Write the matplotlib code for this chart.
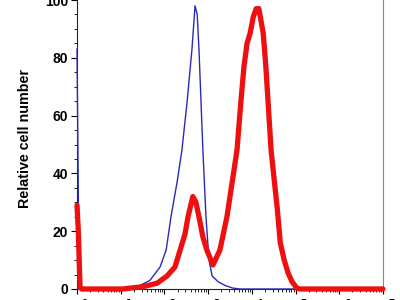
import numpy as np
import matplotlib
matplotlib.use("Agg")
import matplotlib.pyplot as plt
from matplotlib.ticker import LogLocator, MultipleLocator, FixedLocator, NullFormatter

# log10 of fluorescence intensity and relative cell number
blue_log = [0.00, 0.05, 1.14, 1.37, 1.67, 1.90, 2.04, 2.15, 2.29, 2.40, 2.52, 2.63,
            2.70, 2.75, 2.79, 2.88, 2.95, 3.02, 3.09, 3.23, 3.39, 3.57, 3.73, 7.00]
blue_val = [83, 0, 0, 0.7, 3, 7.6, 13.5, 25, 37, 48, 65, 83,
            98, 95, 83, 48, 25, 10, 4.5, 2.5, 1.2, 0.3, 0, 0]

red_log = [0.00, 0.03, 0.07, 0.11, 1.05, 1.21, 1.51, 1.83, 2.06, 2.24, 2.36, 2.47,
           2.54, 2.65, 2.72, 2.79, 2.88, 2.97, 3.11, 3.27, 3.43, 3.55, 3.66, 3.75,
           3.82, 3.89, 3.96, 4.03, 4.10, 4.16, 4.26, 4.32, 4.37, 4.44, 4.51, 4.58,
           4.65, 4.74, 4.83, 4.92, 5.03, 5.10, 7.00]
red_val = [29, 20, 0.5, 0, 0, 0.3, 0.8, 2, 4.5, 7.6, 13.5, 19,
           25, 32, 30, 25, 18, 13.5, 8.3, 13.5, 25, 37, 48, 65,
           77, 85, 88.5, 94, 97, 97, 88.5, 77, 65, 48, 38, 28,
           16, 10, 5.5, 2.5, 0.3, 0, 0]

y_ticks = [0, 20, 40, 60, 80, 100]
x_decades = [0, 1, 2, 3, 4, 5, 6, 7]
y_label = "Relative cell number"

plt.rcParams['font.family'] = ['Liberation Sans', 'DejaVu Sans']

fig = plt.figure(figsize=(4, 3), dpi=100)
ax = fig.add_axes([77/400, 1 - 289/300, 306/400, 105*2.89/300])

ax.plot(10.0**np.array(blue_log), blue_val, color='#2a2ab8', lw=1.0, zorder=3,
        clip_on=False, solid_joinstyle='round')
ax.plot(10.0**np.array(red_log), red_val, color='#ee1010', lw=3.8, zorder=4,
        clip_on=False, solid_joinstyle='round', solid_capstyle='round')

ax.set_xscale('log')
ax.set_xlim(10**x_decades[0], 10**x_decades[-1])
ax.set_ylim(0, 105)

ax.xaxis.set_major_locator(FixedLocator([10.0**d for d in x_decades]))
ax.xaxis.set_minor_locator(LogLocator(base=10, subs=np.arange(2, 10), numticks=100))
ax.xaxis.set_minor_formatter(NullFormatter())
ax.set_xticklabels([r'$\mathbf{10^{%d}}$' % d for d in x_decades])

ax.yaxis.set_major_locator(FixedLocator(y_ticks))
ax.yaxis.set_minor_locator(MultipleLocator(5))
ax.set_yticklabels([str(t) for t in y_ticks])

for lab in ax.get_yticklabels():
    lab.set_fontweight('bold')
ax.tick_params(axis='y', which='major', direction='out', length=4.3, width=0.8,
               labelsize=10, pad=2)
ax.tick_params(axis='y', which='minor', direction='out', length=2.2, width=0.6)
ax.tick_params(axis='x', which='major', direction='out', length=3.5, width=0.8,
               labelsize=9, pad=3.2)
ax.tick_params(axis='x', which='minor', direction='out', length=2.0, width=0.6)

ax.spines['left'].set_color('#222222')
ax.spines['bottom'].set_color('#222222')
ax.spines['right'].set_color('#888888')
ax.spines['top'].set_visible(False)
for s in ax.spines.values():
    s.set_linewidth(0.8)

ax.set_ylabel(y_label, fontsize=10.3, fontweight='bold')
ax.yaxis.set_label_coords(-0.147, 0.497)

fig.savefig('out.png', dpi=100)
